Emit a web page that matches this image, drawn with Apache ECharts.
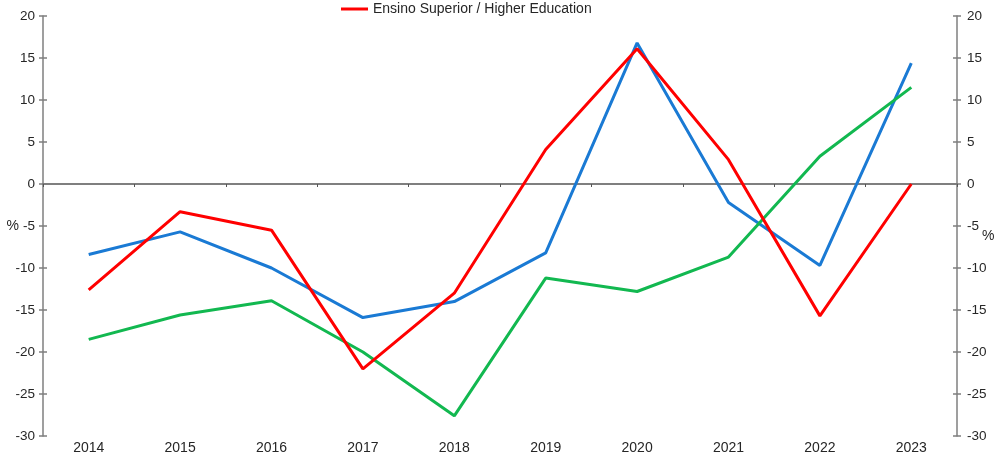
<!DOCTYPE html>
<html>
<head>
<meta charset="utf-8">
<script src="https://cdn.jsdelivr.net/npm/echarts@6/dist/echarts.min.js"></script>
<style>
html,body{margin:0;padding:0;background:#fff;}
#chart{width:995px;height:455px;}
</style>
</head>
<body>
<div id="chart"></div>
<script>
const categories = ['2014','2015','2016','2017','2018','2019','2020','2021','2022','2023'];
const blueValues = [-8.4, -5.7, -10.0, -15.9, -14.0, -8.2, 16.8, -2.2, -9.7, 14.4];
const redValues = [-12.6, -3.3, -5.5, -22.0, -13.0, 4.1, 16.1, 2.9, -15.7, 0.0];
const greenValues = [-18.5, -15.6, -13.9, -20.0, -27.6, -11.2, -12.8, -8.7, 3.3, 11.5];
const blueName = 'Ensino Fundamental / Elementary Education';
const redName = 'Ensino Superior / Higher Education';
const greenName = 'Ensino Médio / Secondary Education';
const yMin = -30, yMax = 20, yStep = 5;

const font = 'Liberation Sans, Arial, sans-serif';
const axisGray = '#7f7f7f';
const textColor = '#262626';

function yAx(pos, withLabels, inside) {
  return {
    type: 'value', position: pos, min: yMin, max: yMax, interval: yStep,
    name: withLabels ? '%' : '',
    nameLocation: 'middle', nameRotate: 0, nameMoveOverlap: false,
    nameGap: pos === 'left' ? 24 : 25,
    nameTextStyle: pos === 'left'
      ? { color: textColor, fontFamily: font, fontSize: 14 }
      : { color: textColor, fontFamily: font, fontSize: 14, verticalAlign: 'top', padding: [3,0,0,0] },
    axisLine: { show: withLabels, lineStyle: { color: axisGray, width: 1.5 } },
    axisTick: { show: true, inside: inside, length: 4, lineStyle: { color: axisGray, width: 1.5 } },
    axisLabel: { show: withLabels, color: textColor, fontFamily: font, fontSize: 13.5,
      margin: pos === 'left' ? 8 : 10 },
    splitLine: { show: false }
  };
}

const chart = echarts.init(document.getElementById('chart'));
chart.setOption({
  animation: false,
  backgroundColor: '#fff',
  grid: { left: 43, right: 38, top: 16, bottom: 19, containLabel: false, outerBoundsMode: 'none' },
  legend: {
    data: [redName], top: -3, left: 336,
    itemWidth: 27, itemHeight: 3, itemGap: 3,
    icon: 'rect',
    textStyle: { color: textColor, fontFamily: font, fontSize: 14 }
  },
  xAxis: [
    {
      type: 'category', data: categories, boundaryGap: true,
      axisLine: { onZero: true, lineStyle: { color: '#555', width: 1.5 } },
      axisTick: { show: true, length: 3, lineStyle: { color: '#555' } },
      axisLabel: { show: false }
    },
    {
      type: 'category', data: categories, boundaryGap: true, position: 'bottom',
      axisLine: { show: false, onZero: false },
      axisTick: { show: false },
      axisLabel: { color: textColor, fontFamily: font, fontSize: 14, margin: 5 }
    }
  ],
  yAxis: [ yAx('left', true, false), yAx('right', true, false), yAx('left', false, true), yAx('right', false, true) ],
  series: [
    { name: blueName, type: 'line', data: blueValues, symbol: 'none', yAxisIndex: 0, xAxisIndex: 0,
      lineStyle: { color: '#1a7ad4', width: 3 }, itemStyle: { color: '#1a7ad4' } },
    { name: greenName, type: 'line', data: greenValues, symbol: 'none', yAxisIndex: 0, xAxisIndex: 0,
      lineStyle: { color: '#12b850', width: 3 }, itemStyle: { color: '#12b850' } },
    { name: redName, type: 'line', data: redValues, symbol: 'none', yAxisIndex: 0, xAxisIndex: 0,
      lineStyle: { color: '#ff0000', width: 3 }, itemStyle: { color: '#ff0000' } }
  ]
});
</script>
</body>
</html>
